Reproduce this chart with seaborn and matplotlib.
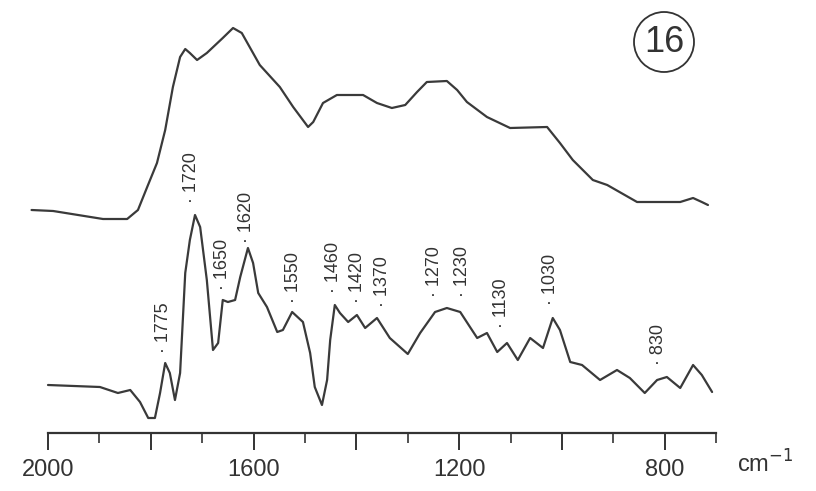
import numpy as np
import pandas as pd
import seaborn as sns
import matplotlib
matplotlib.use("Agg")
import matplotlib.pyplot as plt
from matplotlib.patches import Ellipse

# ---- data (wavenumber cm-1, intensity a.u.) ----
upper_wn = [2032, 1990, 1893, 1846, 1825, 1807, 1788, 1772, 1757, 1743, 1733, 1724,
            1710, 1691, 1660, 1640, 1623, 1588, 1549, 1523, 1494, 1484, 1465, 1438,
            1387, 1360, 1331, 1305, 1282, 1263, 1224, 1204, 1185, 1146, 1101, 1029,
            1004, 979, 940, 912, 854, 770, 745, 728, 716]
upper_val = [2.23, 2.22, 2.14, 2.14, 2.23, 2.46, 2.70, 3.03, 3.46, 3.76, 3.84, 3.80,
             3.73, 3.80, 3.95, 4.05, 4.00, 3.68, 3.46, 3.26, 3.06, 3.11, 3.30, 3.38,
             3.38, 3.30, 3.25, 3.28, 3.41, 3.51, 3.52, 3.43, 3.31, 3.16, 3.05, 3.06,
             2.90, 2.73, 2.53, 2.48, 2.31, 2.31, 2.35, 2.31, 2.28]

lower_wn = [2000, 1899, 1864, 1840, 1821, 1805, 1792, 1782, 1772, 1763, 1753, 1743,
            1733, 1724, 1714, 1704, 1691, 1679, 1669, 1660, 1650, 1636, 1626, 1611,
            1601, 1591, 1574, 1554, 1543, 1525, 1504, 1490, 1481, 1467, 1457, 1451,
            1442, 1432, 1416, 1399, 1383, 1360, 1335, 1300, 1276, 1247, 1224, 1198,
            1179, 1165, 1146, 1126, 1107, 1086, 1062, 1037, 1018, 1004, 984,
            961, 926, 893, 868, 839, 815, 796, 770, 745, 728, 708]
lower_val = [0.48, 0.46, 0.40, 0.43, 0.31, 0.15, 0.15, 0.40, 0.70, 0.60, 0.33, 0.60,
             1.60, 1.93, 2.18, 2.06, 1.53, 0.83, 0.90, 1.33, 1.31, 1.33, 1.56, 1.85,
             1.70, 1.40, 1.26, 1.01, 1.03, 1.21, 1.11, 0.80, 0.46, 0.28, 0.53, 0.93,
             1.28, 1.20, 1.11, 1.18, 1.05, 1.15, 0.95, 0.79, 1.00, 1.21, 1.25, 1.21,
             1.06, 0.95, 1.00, 0.81, 0.90, 0.73, 0.95, 0.85, 1.15, 1.03, 0.71,
             0.68, 0.53, 0.63, 0.55, 0.40, 0.53, 0.56, 0.45, 0.68, 0.58, 0.41]

peak_labels = ["1775", "1720", "1650", "1620", "1550", "1460", "1420", "1370",
               "1270", "1230", "1130", "1030", "830"]
label_wn = [1776, 1720, 1660, 1613, 1523, 1445, 1397, 1350, 1249, 1193, 1117, 1023, 813]
label_val = [0.80, 2.30, 1.43, 1.90, 1.30, 1.40, 1.30, 1.26, 1.36, 1.36, 1.05, 1.28, 0.68]

tick_major = list(range(800, 2001, 200))
tick_minor = list(range(700, 2001, 100))
tick_text = {2000: "2000", 1600: "1600", 1200: "1200", 800: "800"}

sns.set_style("white")
plt.rcParams["font.family"] = ["Liberation Sans", "DejaVu Sans"]

W, H = 816, 491
fig = plt.figure(figsize=(W / 100, H / 100), dpi=100)
px = 0.514  # pixels per cm-1
x_hi, x_lo = 2040, 680
left_px = 48 - (x_hi - 2000) * px
right_px = 48 + (2000 - x_lo) * px
ax = fig.add_axes([left_px / W, 58 / H, (right_px - left_px) / W, 433 / H])

df_u = pd.DataFrame({"wn": upper_wn, "val": upper_val})
df_l = pd.DataFrame({"wn": lower_wn, "val": lower_val})
line_c = "#3a3a3a"
sns.lineplot(data=df_u, x="wn", y="val", ax=ax, color=line_c, lw=1.6,
             estimator=None, sort=False)
sns.lineplot(data=df_l, x="wn", y="val", ax=ax, color=line_c, lw=1.6,
             estimator=None, sort=False)

for lab, w, v in zip(peak_labels, label_wn, label_val):
    ax.text(w, v, "\u00b7 " + lab, rotation=90, ha="center", va="bottom",
            fontsize=13, color="#333333")

ax.set_xlim(x_hi, x_lo)
ax.set_ylim(0, 4.33)
for s in ["top", "right", "left"]:
    ax.spines[s].set_visible(False)
ax.spines["bottom"].set_bounds(700, 2000)
ax.spines["bottom"].set_linewidth(1.6)
ax.spines["bottom"].set_color("#333333")
ax.set_yticks([])
ax.set_xticks(tick_major)
ax.set_xticklabels([tick_text.get(t, "") for t in tick_major])
ax.set_xticks(tick_minor, minor=True)
ax.tick_params(axis="x", which="major", direction="out", length=12, width=1.4,
               color="#333333", labelsize=17, pad=7, labelcolor="#333333", bottom=True)
ax.tick_params(axis="x", which="minor", direction="out", length=7, width=1.2,
               color="#333333", bottom=True)
ax.set_xlabel("")
ax.set_ylabel("")

fig.text(737 / W, (H - 473) / H, "cm$^{-1}$", fontsize=17, color="#333333",
         ha="left", va="baseline")

circ = Ellipse((664 / W, (H - 42) / H), 60 / W, 60 / H, transform=fig.transFigure,
               fill=False, lw=1.3, edgecolor="#333333")
fig.add_artist(circ)
fig.text(664 / W, (H - 42) / H, "16", fontsize=26, color="#333333",
         ha="center", va="center")

fig.savefig("out.png", dpi=100)
